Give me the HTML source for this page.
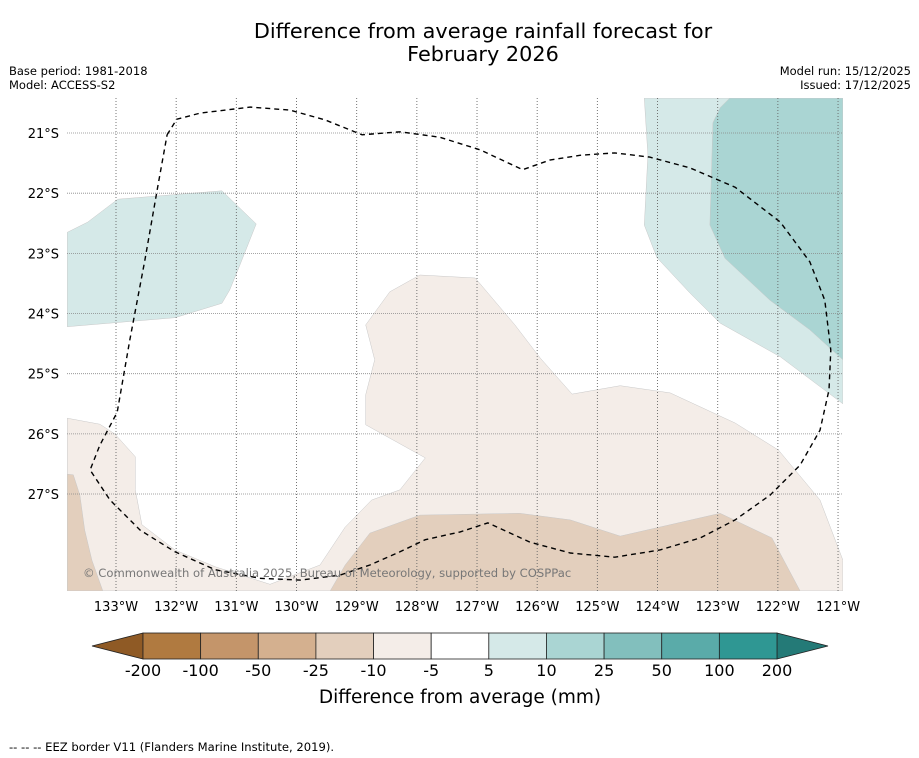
<!DOCTYPE html>
<html><head><meta charset="utf-8"><style>
body{margin:0;background:#fff;}
svg{display:block;font-family:"DejaVu Sans","Liberation Sans",sans-serif;}
</style></head><body>
<svg id="chart" width="919" height="758" viewBox="0 0 919 758" xmlns="http://www.w3.org/2000/svg">
<text x="483" y="38" font-size="20.8" text-anchor="middle">Difference from average rainfall forecast for</text>
<text x="483" y="61" font-size="20.8" text-anchor="middle">February 2026</text>
<text x="9" y="75" font-size="11.5">Base period: 1981-2018</text>
<text x="9" y="89" font-size="11.5">Model: ACCESS-S2</text>
<text x="911" y="75" font-size="11.5" text-anchor="end">Model run: 15/12/2025</text>
<text x="911" y="89" font-size="11.5" text-anchor="end">Issued: 17/12/2025</text>
<defs><clipPath id="mapclip"><rect x="67" y="98" width="776" height="493"/></clipPath></defs>
<g id="map" clip-path="url(#mapclip)"></g>
<g id="grid"></g>
<g id="eez" clip-path="url(#mapclip)"></g>
<text x="83" y="577" font-size="11.6" fill="#777">© Commonwealth of Australia 2025, Bureau of Meteorology, supported by COSPPac</text>
<g id="axes"></g>
<g id="cbar"></g>
<text x="460" y="703" font-size="18.5" text-anchor="middle">Difference from average (mm)</text>
<text x="9" y="751" font-size="11.6">--  --  -- EEZ border V11 (Flanders Marine Institute, 2019).</text>
</svg>
<script>
const lonTicks=[133,132,131,130,129,128,127,126,125,124,123,122,121];
const latTicks=[21,22,23,24,25,26,27];
const cbarLabels=["-200","-100","-50","-25","-10","-5","5","10","25","50","100","200"];
const cbarColors=["#b07a40","#c4956a","#d4b08f","#e3cfbd","#f4ede8","#ffffff","#d5e9e8","#aad5d3","#82bfbd","#5aaba9","#2f9793"];
const tealLightLeft=[[133.81,22.65],[133.47,22.48],[132.97,22.10],[131.24,21.96],[130.67,22.51],[130.94,23.19],[131.11,23.61],[131.24,23.83],[132.02,24.07],[133.81,24.22]];
const tealLightRight=[[124.22,20.42],[124.16,21.37],[124.22,22.53],[124.01,23.07],[123.46,23.66],[122.96,24.16],[121.96,24.72],[120.92,25.50],[120.92,20.42]];
const tealMedRight=[[122.80,20.42],[122.96,20.58],[123.08,20.83],[123.13,22.53],[122.88,23.08],[122.13,23.78],[121.47,24.27],[120.92,24.77],[120.92,20.42]];
const beigeLight=[[133.81,25.74],[133.27,25.84],[133.02,26.00],[132.68,26.38],[132.68,26.93],[132.57,27.51],[132.02,27.93],[131.35,28.21],[130.44,28.50],[129.61,28.18],[129.19,27.55],[128.75,27.10],[128.28,26.93],[127.86,26.40],[128.85,25.85],[128.85,25.35],[128.70,24.77],[128.85,24.19],[128.45,23.64],[127.95,23.36],[127.03,23.41],[126.37,24.19],[125.95,24.74],[125.42,25.34],[124.62,25.20],[123.79,25.32],[122.71,25.82],[121.99,26.27],[121.30,27.10],[120.92,28.10],[120.92,28.61],[133.81,28.61]];
const beigeDarkLeft=[[133.81,26.67],[133.71,26.68],[133.60,27.02],[133.52,27.60],[133.40,28.10],[133.22,28.61],[133.81,28.61]];
const beigeDarkBottom=[[129.44,28.61],[129.19,28.18],[128.78,27.65],[127.95,27.35],[126.29,27.32],[125.45,27.43],[124.62,27.70],[122.96,27.32],[122.10,27.73],[121.63,28.61]];
const eezBorder=[[132.15,21.03],[131.99,20.77],[131.60,20.67],[130.77,20.57],[130.11,20.62],[129.53,20.78],[128.91,21.03],[128.28,20.98],[127.62,21.07],[126.95,21.28],[126.24,21.61],[125.79,21.45],[125.29,21.37],[124.71,21.33],[124.13,21.40],[123.46,21.58],[122.71,21.90],[121.96,22.48],[121.47,23.14],[121.22,23.78],[121.12,24.61],[121.15,25.27],[121.30,25.94],[121.63,26.52],[122.13,27.02],[122.71,27.43],[123.29,27.73],[123.96,27.93],[124.71,28.05],[125.45,27.98],[126.12,27.80],[126.82,27.48],[127.28,27.63],[127.86,27.76],[128.28,27.96],[128.78,28.18],[129.28,28.35],[129.94,28.43],[130.61,28.40],[131.35,28.26],[132.02,27.96],[132.60,27.60],[133.10,27.10],[133.43,26.60],[133.27,26.19],[132.98,25.64],[132.77,24.44],[132.52,23.11],[132.30,21.86],[132.15,21.03]];

const NS="http://www.w3.org/2000/svg";
const PX=60.17;
function xScale(w){return 116+(133-w)*PX;}
function yScale(s){return 133+(s-21)*PX;}
function mk(tag,attrs,parent){const e=document.createElementNS(NS,tag);for(const k in attrs)e.setAttribute(k,attrs[k]);parent.appendChild(e);return e;}
function pts(arr){return arr.map(p=>xScale(p[0]).toFixed(1)+","+yScale(p[1]).toFixed(1)).join(" ");}
const map=document.getElementById('map');
const polys=[[beigeLight,"#f4ede8","beige-light-region"],[beigeDarkLeft,"#e3cfbd","beige-dark-left-region"],[beigeDarkBottom,"#e3cfbd","beige-dark-bottom-region"],[tealLightLeft,"#d5e9e8","teal-light-left-region"],[tealLightRight,"#d5e9e8","teal-light-right-region"],[tealMedRight,"#aad5d3","teal-medium-right-region"]];
polys.forEach(p=>{const e=mk('polygon',{points:pts(p[0]),fill:p[1],stroke:"#c8c8c8","stroke-width":0.5},map);

});
const grid=document.getElementById('grid');
const axes=document.getElementById('axes');
lonTicks.forEach(l=>{const x=xScale(l);
const g=mk('line',{x1:x,x2:x,y1:98,y2:591,stroke:"#666","stroke-width":0.9,"stroke-dasharray":"1,2"},grid);


const t=mk('text',{x:x,y:611,"font-size":13,"text-anchor":"middle"},axes);t.textContent=l+"°W";

});
latTicks.forEach(l=>{const y=yScale(l);
const g=mk('line',{x1:67,x2:843,y1:y,y2:y,stroke:"#888","stroke-width":0.8,"stroke-dasharray":"1,1"},grid);


const t=mk('text',{x:59,y:y+5,"font-size":13,"text-anchor":"end"},axes);t.textContent=l+"°S";

});
const eez=document.getElementById('eez');
const pl=mk('polyline',{points:pts(eezBorder),fill:"none",stroke:"#000","stroke-width":1.4,"stroke-dasharray":"5,4"},eez);


const cb=document.getElementById('cbar');
const cx0=143,cx1=777,cy=633,ch=26,seg=(cx1-cx0)/cbarColors.length;
const lt=mk('polygon',{points:`92,646 ${cx0},${cy} ${cx0},${cy+ch}`,fill:"#8f5a25",stroke:"#222","stroke-width":0.8},cb);


const rt=mk('polygon',{points:`828,646 ${cx1},${cy} ${cx1},${cy+ch}`,fill:"#247a77",stroke:"#222","stroke-width":0.8},cb);


cbarColors.forEach((c,i)=>{const r=mk('rect',{x:cx0+i*seg,y:cy,width:seg,height:ch,fill:c,stroke:"#222","stroke-width":0.8},cb);

});
cbarLabels.forEach((l,i)=>{const t=mk('text',{x:cx0+i*seg,y:676,"font-size":16,"text-anchor":"middle"},cb);t.textContent=l;

});
</script>
</body></html>
